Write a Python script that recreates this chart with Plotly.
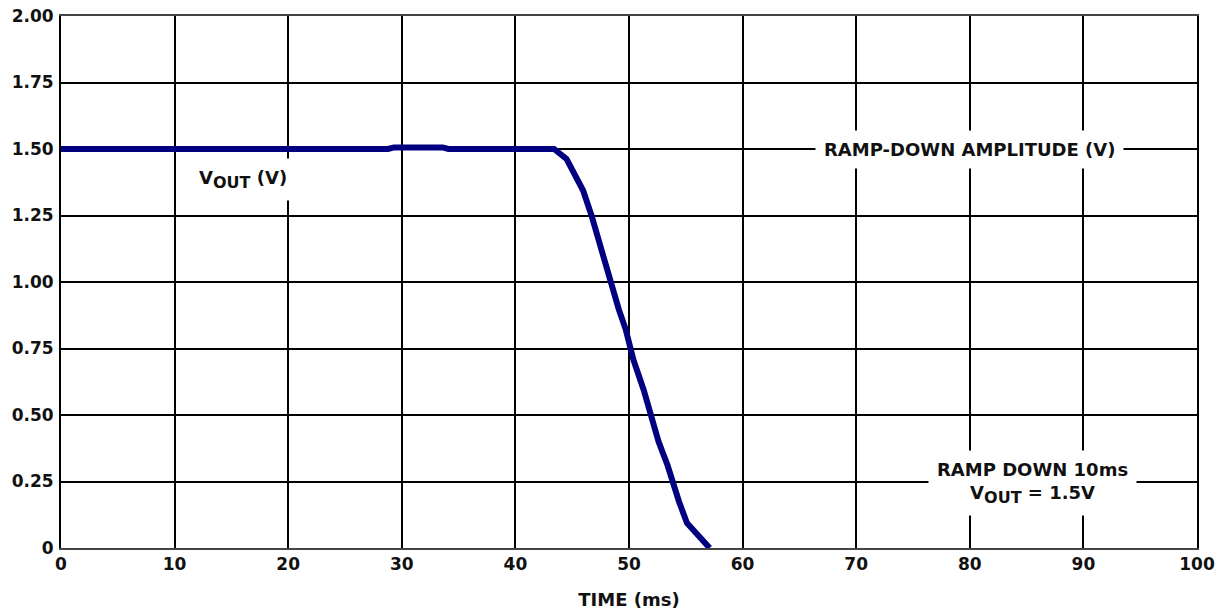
import plotly.graph_objects as go

# Data
time_ms = [0, 28.8, 29.3, 33.6, 34.1, 43.4, 44.5, 45.2, 45.96, 46.7, 47.3, 47.9, 48.4,
           49.1, 49.7, 50.1, 50.4, 51.3, 51.96, 52.6, 53.4, 53.8, 54.4, 55.1, 56.0,
           56.9, 57.1]
vout = [1.5, 1.5, 1.506, 1.506, 1.5, 1.5, 1.463, 1.406, 1.344, 1.25, 1.16, 1.073, 1.0,
        0.897, 0.823, 0.76, 0.706, 0.593, 0.5, 0.40, 0.31, 0.25, 0.175, 0.094, 0.05,
        0.01, 0.0]

x_ticks = [0, 10, 20, 30, 40, 50, 60, 70, 80, 90, 100]
x_ticklabels = ["0", "10", "20", "30", "40", "50", "60", "70", "80", "90", "100"]
y_ticks = [0, 0.25, 0.5, 0.75, 1.0, 1.25, 1.5, 1.75, 2.0]
y_ticklabels = ["0", "0.25", "0.50", "0.75", "1.00", "1.25", "1.50", "1.75", "2.00"]

FONT = "DejaVu Sans"
TXT = "#111111"

fig = go.Figure()
fig.add_trace(go.Scatter(
    x=time_ms, y=vout, mode="lines",
    line=dict(color="#000080", width=6),
    hoverinfo="skip", showlegend=False,
))

ann_font = dict(family=FONT, size=18, color=TXT, weight="bold")
sub = "<sub><span style='font-size:16px'>OUT</span></sub>"
fig.add_annotation(x=16.0, y=1.385, xref="x", yref="y",
                   text="V" + sub + " (V)", showarrow=False,
                   font=ann_font, bgcolor="white", borderpad=8)
fig.add_annotation(x=80.0, y=1.5, xref="x", yref="y",
                   text="RAMP-DOWN AMPLITUDE (V)", showarrow=False,
                   font=ann_font, bgcolor="white", borderpad=8)
fig.add_annotation(x=85.5, y=0.245, xref="x", yref="y",
                   text="RAMP DOWN 10ms<br>V" + sub + " = 1.5V", showarrow=False,
                   font=ann_font, bgcolor="white", borderpad=8)

fig.update_layout(
    width=1225, height=612,
    margin=dict(l=53, r=36, t=8, b=72),
    paper_bgcolor="white", plot_bgcolor="white",
    font=dict(family=FONT, color=TXT),
    xaxis=dict(
        range=[0, 100], tickvals=x_ticks, ticktext=x_ticklabels,
        showgrid=True, gridcolor="black", gridwidth=2,
        showline=True, linecolor="#444444", linewidth=2, mirror=True,
        ticks="", zeroline=False, automargin=False, ticklabeloverflow="allow",
        tickfont=dict(family=FONT, size=17, color=TXT, weight="bold"),
        title=dict(text="TIME (ms)", standoff=20,
                   font=dict(family=FONT, size=18, color=TXT, weight="bold")),
    ),
    yaxis=dict(
        range=[0, 2], tickvals=y_ticks, ticktext=y_ticklabels,
        showgrid=True, gridcolor="black", gridwidth=1.5,
        showline=True, linecolor="black", linewidth=2, mirror=True,
        ticks="", zeroline=False, ticklabelstandoff=2, automargin=False,
        ticklabeloverflow="allow",
        tickfont=dict(family=FONT, size=17, color=TXT, weight="bold"),
    ),
)

fig.write_html("out.html")
